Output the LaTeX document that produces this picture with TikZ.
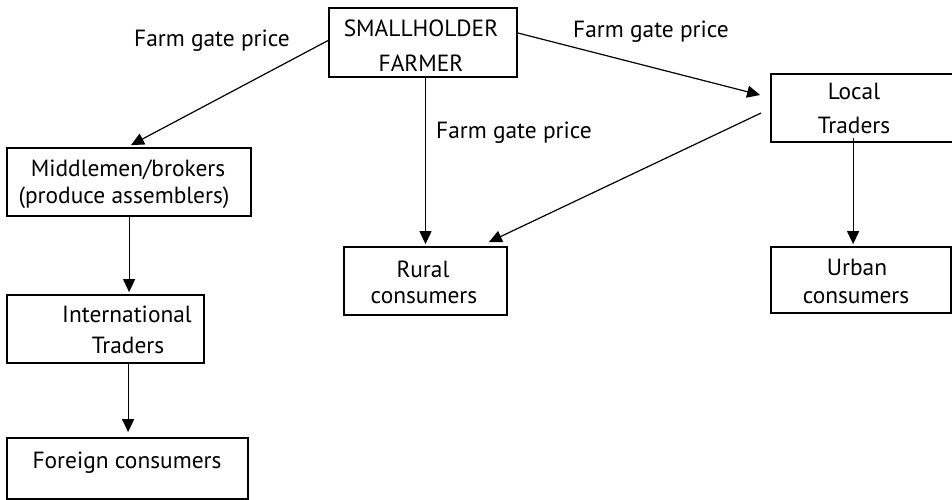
\documentclass[tikz,border=0pt]{standalone}
\usepackage{fontspec}
\setmainfont{PT Sans}
\usetikzlibrary{arrows.meta,calc}
\begin{document}
\begin{tikzpicture}[x=1pt,y=-1pt,
  box/.style={draw, rectangle, line width=1.8pt, inner sep=0pt},
  txt/.style={font=\fontsize{23.4}{28}\selectfont, anchor=base, inner sep=0pt},
  arr/.style={-{Triangle[length=13pt,width=12pt]}, line width=1.2pt}]
\useasboundingbox (0,0) rectangle (952,500);

% boxes
\node[box, minimum width=188pt, minimum height=69pt] (farmer) at (423,42.5) {};
\node[box, minimum width=191pt, minimum height=68pt] (local) at (866.5,108) {};
\node[box, minimum width=244pt, minimum height=68pt] (middle) at (129,182) {};
\node[box, minimum width=163pt, minimum height=68pt] (rural) at (425.5,281) {};
\node[box, minimum width=180pt, minimum height=66pt] (urban) at (861,280) {};
\node[box, minimum width=197pt, minimum height=68pt] (inter) at (105.5,329) {};
\node[box, minimum width=241pt, minimum height=61pt] (foreign) at (127.5,468.5) {};

% box texts
\node[txt] (farmer1) at (421,37) {SMALLHOLDER};
\node[txt] (farmer2) at (421,72) {FARMER};
\node[txt] (local1) at (854,100) {Local};
\node[txt] (local2) at (854,133) {Traders};
\node[txt] (middle1) at (128,176) {Middlemen/brokers};
\node[txt] (middle2) at (124,203) {(produce assemblers)};
\node[txt] (rural1) at (423,277) {Rural};
\node[txt] (rural2) at (424,303) {consumers};
\node[txt] (urban1) at (857,275) {Urban};
\node[txt] (urban2) at (856,303) {consumers};
\node[txt] (inter1) at (127,322) {International};
\node[txt] (inter2) at (128,353) {Traders};
\node[txt] (foreign1) at (127,468) {Foreign consumers};

% labels
\node[txt] (lab1) at (212,47) {Farm gate price};
\node[txt] (lab2) at (651,38) {Farm gate price};
\node[txt] (lab3) at (514,138) {Farm gate price};

% connectors
\draw[arr] ($(farmer.west)+(0,-2)$) -- ($(middle.north)+(2,-2)$);
\draw[arr] ($(farmer.east)+(0,-9.5)$) -- ($(local.west)+(-10,-13)$);
\draw[arr] (rural.north |- farmer.south) -- ($(rural.north)+(0,-2)$);
\draw[arr] ($(local.west)+(-9,5)$) -- ($(rural.north east)+(-19,-4)$);
\draw[arr] ($(local.south west)+(83,-5)$) -- ($(urban.north west)+(83,-2)$);
\draw[arr] ($(middle.south west)+(123,0)$) -- ($(inter.north west)+(123,-2)$);
\draw[arr] ($(inter.south west)+(122,0)$) -- ($(foreign.north west)+(122,-5)$);
\end{tikzpicture}
\end{document}
